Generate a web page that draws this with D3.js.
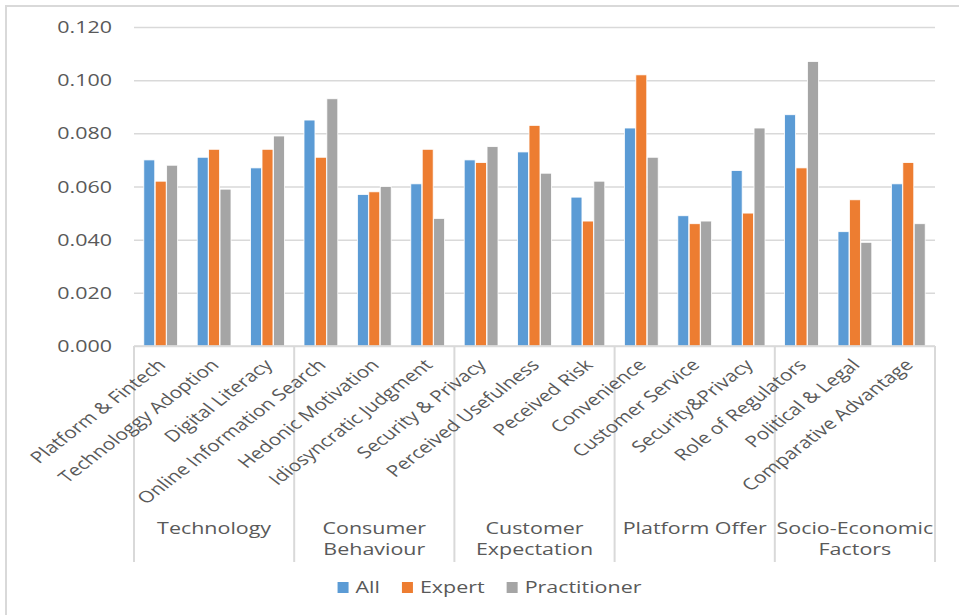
<!DOCTYPE html>
<html>
<head>
<meta charset="utf-8">
<script src="https://cdn.jsdelivr.net/npm/d3@7"></script>
<style>
  body { margin: 0; background: #fff; }
  svg { display: block; }
  text { font-family: "Open Sans", "Noto Sans", sans-serif; fill: #595959; }
</style>
</head>
<body>
<svg width="959" height="615"></svg>
<script>
// data
var categories = ['Platform & Fintech', 'Technologgy Adoption', 'Digital Literacy',
    'Online Information Search', 'Hedonic Motivation', 'Idiosyncratic Judgment',
    'Security & Privacy', 'Perceived Usefulness', 'Peceived Risk',
    'Convenience', 'Customer Service', 'Security&Privacy',
    'Role of Regulators', 'Political & Legal', 'Comparative Advantage'];
var groups = [['Technology'], ['Consumer', 'Behaviour'], ['Customer', 'Expectation'],
    ['Platform Offer'], ['Socio-Economic', 'Factors']];
var seriesNames = ['All', 'Expert', 'Practitioner'];
var seriesColors = ['#5B9BD5', '#ED7D31', '#A5A5A5'];
var allValues = [0.070, 0.071, 0.067, 0.085, 0.057, 0.061, 0.070, 0.073, 0.056,
    0.082, 0.049, 0.066, 0.087, 0.043, 0.061];
var expertValues = [0.062, 0.074, 0.074, 0.071, 0.058, 0.074, 0.069, 0.083, 0.047,
    0.102, 0.046, 0.050, 0.067, 0.055, 0.069];
var practitionerValues = [0.068, 0.059, 0.079, 0.093, 0.060, 0.048, 0.075, 0.065, 0.062,
    0.071, 0.047, 0.082, 0.107, 0.039, 0.046];
var yTicks = [0, 0.02, 0.04, 0.06, 0.08, 0.10, 0.12];

var svg = d3.select('svg');
var SX = 1.3; // the picture is stretched sideways, so text is too
var plot = {l: 134, r: 935, t: 27, b: 346};

var x0 = d3.scaleBand()
    .domain(categories)
    .range([plot.l, plot.r])
    .paddingInner(0.35)
    .paddingOuter(0.175);
var x1 = d3.scaleBand()
    .domain(seriesNames)
    .range([0, x0.bandwidth()])
    .padding(0.04);
var y = d3.scaleLinear()
    .domain([0, 0.12])
    .range([plot.b, plot.t]);
var color = d3.scaleOrdinal(seriesNames, seriesColors);

var rows = categories.map(function(c, i) {
    return {cat: c, values: [allValues[i], expertValues[i], practitionerValues[i]]};
});

// chart frame (only left & top edge show)
svg.append('path')
    .attr('d', 'M6,615V6H959')
    .attr('fill', 'none')
    .attr('stroke', '#D9D9D9')
    .attr('stroke-width', 2);

// gridlines + tick labels
var yAxis = d3.axisLeft(y)
    .tickValues(yTicks)
    .tickSize(-(plot.r - plot.l))
    .tickFormat('');
svg.append('g')
    .attr('class', 'y-grid')
    .attr('transform', 'translate(' + plot.l + ',0)')
    .call(yAxis)
    .call(function(g) {
        g.select('.domain').remove();
        g.selectAll('line').attr('stroke', '#D9D9D9').attr('stroke-width', 1.5);
    });

svg.selectAll('.y-label')
    .data(yTicks)
    .enter()
    .append('text')
    .attr('class', 'y-label')
    .attr('text-anchor', 'end')
    .attr('font-size', 16.5)
    .attr('transform', function(d) {
        return 'translate(' + [112, y(d) + 6] + ') scale(' + SX + ',1)';
    })
    .text(d3.format('.3f'));

// bars
var cat = svg.selectAll('.cat')
    .data(rows)
    .enter()
    .append('g')
    .attr('class', 'cat')
    .attr('transform', function(d) { return 'translate(' + x0(d.cat) + ',0)'; });

cat.selectAll('rect')
    .data(function(d) {
        return d.values.map(function(v, i) { return {s: seriesNames[i], v: v}; });
    })
    .enter()
    .append('rect')
    .attr('x', function(d) { return x1(d.s); })
    .attr('y', function(d) { return y(d.v); })
    .attr('width', x1.bandwidth())
    .attr('height', function(d) { return y(0) - y(d.v); })
    .attr('fill', function(d) { return color(d.s); })
    .attr('stroke', '#fff')
    .attr('stroke-width', 0.8);

// baseline and group dividers
svg.append('line')
    .attr('x1', plot.l).attr('x2', plot.r)
    .attr('y1', plot.b).attr('y2', plot.b)
    .attr('stroke', '#D9D9D9').attr('stroke-width', 1.5);

var step = x0.step();
var dividers = d3.range(groups.length + 1).map(function(i) { return plot.l + i * 3 * step; });
svg.selectAll('.divider')
    .data(dividers)
    .enter()
    .append('line')
    .attr('class', 'divider')
    .attr('x1', function(d) { return d; })
    .attr('x2', function(d) { return d; })
    .attr('y1', plot.b)
    .attr('y2', 562)
    .attr('stroke', '#D9D9D9')
    .attr('stroke-width', 2);

// category labels, rotated
svg.selectAll('.cat-label')
    .data(categories)
    .enter()
    .append('text')
    .attr('class', 'cat-label')
    .attr('text-anchor', 'end')
    .attr('font-size', 16)
    .attr('transform', function(d) {
        var cx = x0(d) + x0.bandwidth() / 2;
        return 'translate(' + [cx + 6, 366] + ') scale(' + SX + ',1) rotate(-45)';
    })
    .text(function(d) { return d; });

// group labels
var gl = svg.selectAll('.group-label')
    .data(groups)
    .enter()
    .append('text')
    .attr('class', 'group-label')
    .attr('text-anchor', 'middle')
    .attr('font-size', 16.5)
    .attr('transform', function(d, i) {
        var cx = (dividers[i] + dividers[i + 1]) / 2;
        return 'translate(' + [cx, 534] + ') scale(' + SX + ',1)';
    });
gl.selectAll('tspan')
    .data(function(d) { return d; })
    .enter()
    .append('tspan')
    .attr('x', 0)
    .attr('y', function(d, i) { return i * 21; })
    .text(function(d) { return d; });

// legend
var legend = svg.append('g').attr('class', 'legend');
var items = legend.selectAll('.item')
    .data(seriesNames)
    .enter()
    .append('g')
    .attr('class', 'item');
items.append('rect')
    .attr('width', 11)
    .attr('height', 11)
    .attr('y', -11)
    .attr('fill', function(d) { return color(d); });
items.append('text')
    .attr('font-size', 16.5)
    .attr('transform', 'translate(18,0) scale(' + SX + ',1)')
    .text(function(d) { return d; });

var pos = 0;
var offsets = [];
items.each(function() {
    var w = 18 + d3.select(this).select('text').node().getComputedTextLength() * SX;
    offsets.push(pos);
    pos += w + 22;
});
var legendW = pos - 22;
items.attr('transform', function(d, i) {
    return 'translate(' + [489.5 - legendW / 2 + offsets[i], 593] + ')';
});
</script>
</body>
</html>
